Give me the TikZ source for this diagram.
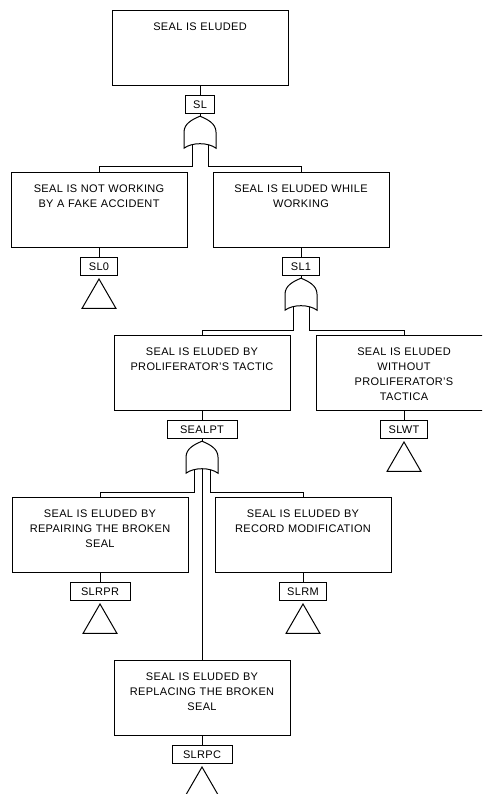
\documentclass[tikz,border=0pt]{standalone}
\usepackage{fontspec}
\setmainfont{Liberation Sans}[LetterSpace=3]
\usetikzlibrary{positioning,shapes.geometric}

\begin{document}
\begin{tikzpicture}[
  x=1pt, y=-1pt,
  % === Node styles ===
  event/.style={
    draw, line width=1pt, anchor=north,
    text width=170pt, align=center,
    inner xsep=3pt, inner ysep=0pt,
    text height=20pt, text depth=55pt,
    font=\fontsize{11}{15}\selectfont
  },
  tag/.style={
    draw, line width=1pt,
    minimum height=18pt, inner xsep=8pt, inner ysep=0pt,
    font=\fontsize{11}{13}\selectfont
  },
  gate/.style={minimum width=32pt, minimum height=32pt, inner sep=0pt},
  xfer/.style={
    draw, line width=1pt, regular polygon, regular polygon sides=3,
    minimum size=39pt, inner sep=0pt
  },
  % === Connector style ===
  wire/.style={line width=1pt},
  % === OR gate outline ===
  orgate/.pic={
    \draw[line width=1pt, fill=white] (-16,16) -- (-16,0)
      .. controls (-16,-9) and (-7,-13) .. (0,-16)
      .. controls (7,-13) and (16,-9) .. (16,0) -- (16,16)
      .. controls (8,10) and (-8,10) .. cycle;
  },
]
\useasboundingbox (0,0) rectangle (482,794);
\clip (0,0) rectangle (482,794);

% =============================================
% Top event
% =============================================
\node[event] (top) at (200,10) {SEAL IS ELUDED};
\node[tag, below=9pt of top] (sl) {SL};
\node[gate, below=2pt of sl] (g1) {};

% =============================================
% Level 1
% =============================================
\node[event] (slnw) at (99,172) {SEAL IS NOT WORKING\\BY A FAKE ACCIDENT};
\node[event] (slw) at (301,172) {SEAL IS ELUDED WHILE\\WORKING};

\node[tag, below=9pt of slnw] (sl0) {SL0};
\node[xfer, below=2pt of sl0] (t0) {};
\node[tag, below=9pt of slw] (sl1) {SL1};
\node[gate, below=2pt of sl1] (g2) {};

% =============================================
% Level 2
% =============================================
\node[event] (slpt) at (202,335) {SEAL IS ELUDED BY\\PROLIFERATOR'S TACTIC};
\node[event] (slwt) at (404,335) {SEAL IS ELUDED\\WITHOUT\\PROLIFERATOR'S\\TACTICA};

\node[tag, minimum width=70pt, below=9pt of slpt] (sealpt) {SEALPT};
\node[gate, below=2pt of sealpt] (g3) {};
\node[tag, below=9pt of slwt] (slwtl) {SLWT};
\node[xfer, below=2pt of slwtl] (twt) {};

% =============================================
% Level 3
% =============================================
\node[event] (slrpr) at (100,497) {SEAL IS ELUDED BY\\REPAIRING THE BROKEN\\SEAL};
\node[event] (slrm) at (303,497) {SEAL IS ELUDED BY\\RECORD MODIFICATION};
\node[event] (slrpc) at (202,660) {SEAL IS ELUDED BY\\REPLACING THE BROKEN\\SEAL};

\node[tag, minimum width=60pt, below=9pt of slrpr] (slrprl) {SLRPR};
\node[xfer, below=2pt of slrprl] (trpr) {};
\node[tag, below=9pt of slrm] (slrml) {SLRM};
\node[xfer, below=2pt of slrml] (trm) {};
\node[tag, minimum width=60pt, below=9pt of slrpc] (slrpcl) {SLRPC};
\node[xfer, below=2pt of slrpcl] (trpc) {};

% =============================================
% Connectors
% =============================================
\foreach \ev/\lb in {top/sl, slnw/sl0, slw/sl1, slpt/sealpt, slwt/slwtl,
                     slrpr/slrprl, slrm/slrml, slrpc/slrpcl}
  \draw[wire] (\ev.south) -- (\lb.north);
\draw[wire] (sl.south) -- (g1.north);
\draw[wire] (sl1.south) -- (g2.north);
\draw[wire] (sealpt.south) -- (g3.north);

% gate inputs
\draw[wire] ([xshift=-8pt,yshift=4pt]g1.south) |- ([yshift=5pt]slnw.north) -- (slnw.north);
\draw[wire] ([xshift=8pt,yshift=4pt]g1.south) |- ([yshift=5pt]slw.north) -- (slw.north);
\draw[wire] ([xshift=-8pt,yshift=4pt]g2.south) |- ([yshift=5pt]slpt.north) -- (slpt.north);
\draw[wire] ([xshift=8pt,yshift=4pt]g2.south) |- ([yshift=5pt]slwt.north) -- (slwt.north);
\draw[wire] ([xshift=-8pt,yshift=4pt]g3.south) |- ([yshift=5pt]slrpr.north) -- (slrpr.north);
\draw[wire] ([xshift=8pt,yshift=4pt]g3.south) |- ([yshift=5pt]slrm.north) -- (slrm.north);
\draw[wire] ([yshift=4pt]g3.south) -- (slrpc.north);

% OR gates on top of their inputs
\pic at (g1) {orgate};
\pic at (g2) {orgate};
\pic at (g3) {orgate};

\end{tikzpicture}
\end{document}
